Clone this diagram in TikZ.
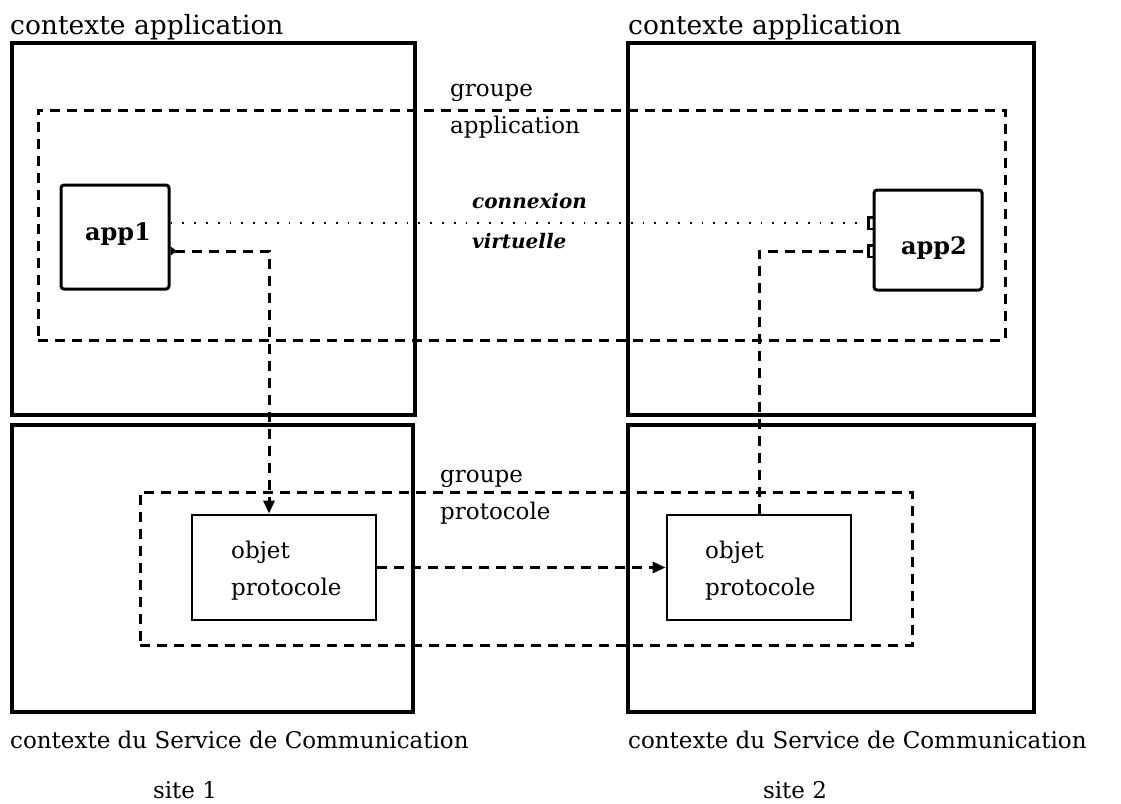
\documentclass[tikz,border=0pt]{standalone}
\usepackage{fontspec}
\setmainfont{DejaVu Serif}
\usetikzlibrary{arrows.meta}
\tikzset{
  ctx/.style={draw, line width=3.2pt, minimum width=#1, inner sep=0pt},
  grp/.style={draw, line width=3pt, dash pattern=on 10pt off 7pt, inner sep=0pt},
  appbox/.style={draw, line width=3pt, rounded corners=3pt, inner sep=0pt},
  objbox/.style={draw, line width=2.8pt, inner sep=0pt, minimum width=184pt, minimum height=105pt},
  lbl/.style={inner sep=0pt, font=\fontsize{23}{37}\selectfont},
  toplbl/.style={inner sep=0pt, font=\fontsize{26.5}{30}\selectfont},
  applbl/.style={inner sep=0pt, font=\fontsize{24}{28}\selectfont\bfseries},
  dashlink/.style={line width=3pt, dash pattern=on 10pt off 7pt},
  dotlink/.style={line width=1.8pt, dash pattern=on 1.8pt off 10pt},
  sock/.style={-{Bracket[reversed,width=14pt,length=4pt,line width=2.5pt]}},
}
\begin{document}
\begin{tikzpicture}[x=1pt,y=-1pt]
\useasboundingbox (0,0) rectangle (1121,803);
% context boxes
\node[ctx=403pt, minimum height=372pt] (ca1) at (213.5,229) {};
\node[ctx=406pt, minimum height=372pt] (ca2) at (831,229) {};
\node[ctx=401pt, minimum height=287pt] (cs1) at (212.5,568.5) {};
\node[ctx=406pt, minimum height=287pt] (cs2) at (831,568.5) {};
% groups
\node[grp, minimum width=967pt, minimum height=230pt] (gapp) at (521.5,225) {};
\node[grp, minimum width=772pt, minimum height=153pt] (gprot) at (526,568.5) {};
% labels
\node[toplbl, anchor=base west] (la1) at (10,34) {contexte application};
\node[toplbl, anchor=base west] (la2) at (628,34) {contexte application};
\node[lbl, anchor=base west, align=left] (lga) at (450,133) {groupe\\application};
\node[lbl, anchor=base west, align=left] (lgp) at (440,519) {groupe\\protocole};
\node[lbl, anchor=base west] (ls1) at (10,748) {contexte du Service de Communication};
\node[lbl, anchor=base west] (ls2) at (628,748) {contexte du Service de Communication};
\node[lbl, anchor=base] (site1) at (185,798) {site 1};
\node[lbl, anchor=base] (site2) at (795,798) {site 2};
% applications
\node[appbox, minimum width=108pt, minimum height=104pt] (app1) at (115,237) {};
\node[applbl, anchor=base] (app1t) at (118,240) {app1};
\node[appbox, minimum width=108pt, minimum height=100pt] (app2) at (928,240) {};
\node[applbl, anchor=base] (app2t) at (934,254) {app2};
% objects
\node[objbox] (obj1) at (284,567.5) {};
\node[lbl, align=left, anchor=base west] (obj1t) at (231,595) {objet\\protocole};
\node[objbox] (obj2) at (759,567.5) {};
\node[lbl, align=left, anchor=base west] (obj2t) at (705,595) {objet\\protocole};
% virtual connection
\node[anchor=base west, align=left, inner sep=0pt, font=\fontsize{20}{40}\selectfont\bfseries\itshape] (cv) at (472,248) {connexion\\virtuelle};
\draw[dotlink, sock] ([yshift=14pt]app1.east) -- ([yshift=17pt]app2.west);
% links
\draw[dashlink, {Triangle[reversed,length=6pt,width=9pt]}-{Triangle[length=13pt,width=11pt]}] ([yshift=-14pt]app1.east) -| ([xshift=-15pt]obj1.north);
\draw[dashlink, -{Triangle[length=13pt,width=11pt]}] (obj1.east) -- (obj2.west);
\draw[dashlink, sock] (obj2.north) |- ([yshift=-11pt]app2.west);
\end{tikzpicture}
\end{document}
